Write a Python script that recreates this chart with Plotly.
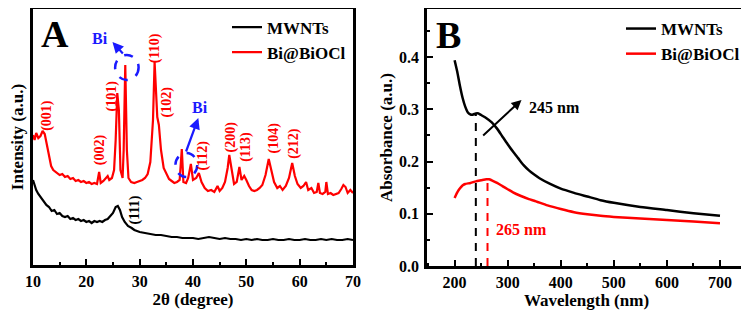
import plotly.graph_objects as go

# ---------------- Panel A : XRD ----------------
two_theta_red = [10.0,10.3,10.6,11.0,11.4,11.8,12.2,12.6,13.0,13.4,13.8,14.5,15.0,15.5,16.0,16.5,17.0,17.5,18.0,18.5,
                 19.0,19.5,20.0,20.5,21.0,21.5,22.0,22.4,22.7,23.2,23.7,24.0,24.3,24.8,25.2,25.5,25.8,26.1,26.4,26.8,
                 27.0,27.3,27.6,27.9,28.4,29.0,29.5,30.0,30.5,31.0,31.5,32.0,32.5,32.8,33.1,33.3,33.6,34.0,34.5,35.0,
                 35.5,36.0,36.5,37.0,37.5,37.9,38.2,38.7,39.1,39.6,40.0,40.6,41.1,41.6,42.2,42.8,43.4,44.0,44.6,45.0,
                 45.5,46.0,46.5,46.8,47.2,47.7,48.2,48.7,49.1,49.6,50.0,50.5,51.0,51.5,52.0,52.5,53.0,53.6,54.2,54.7,
                 55.2,55.8,56.3,56.8,57.4,58.0,58.6,59.1,59.6,60.2,60.7,61.2,61.6,62.2,62.7,63.2,63.5,63.8,64.3,64.8,
                 65.0,65.3,65.8,66.3,66.8,67.3,67.8,68.2,68.6,69.0,69.5,70.0]
intensity_red = [130,125,132,127,129,134,131,120,107,99,95,92,90,91,88,89,86,87,84,85,
                 83,84,82,83,81,82,81,93,82,84,87,89,85,87,95,125,172,155,95,87,
                 115,200,115,87,83,82,83,84,85,87,91,103,145,203,175,148,140,115,97,91,
                 86,84,82,83,85,116,83,82,87,101,85,87,92,83,77,74,75,73,79,74,
                 77,83,97,110,95,81,83,98,85,89,85,79,75,74,75,77,80,90,106,93,
                 83,77,79,75,79,87,102,89,81,77,79,83,75,77,72,73,82,72,71,73,
                 83,71,72,70,71,72,76,80,78,72,75,72]

two_theta_black = [10.0,10.3,10.6,11.0,11.5,12.0,12.5,13.0,13.5,14.0,14.5,15.0,15.5,16.0,16.5,17.0,17.5,18.0,18.5,19.0,
                   19.5,20.0,20.5,21.0,21.5,22.0,22.5,23.0,23.5,24.0,24.5,25.0,25.5,25.9,26.3,26.7,27.2,27.8,28.5,29.0,
                   29.5,30.0,31.0,32.0,33.0,34.0,35.0,36.0,37.0,38.0,39.0,40.0,41.0,42.0,43.0,44.0,45.0,46.0,47.0,48.0,
                   49.0,50.0,51.0,52.0,53.0,54.0,55.0,56.0,57.0,58.0,59.0,60.0,61.0,62.0,63.0,64.0,65.0,66.0,67.0,68.0,
                   69.0,70.0]
intensity_black = [85,79,75,71,67,63,60,58,54,55,51,52,49,48,49,46,47,45,46,44,
                   45,43,44,42,44,43,44,43,45,46,49,52,58,59,55,48,43,39,37,35,
                   34,33,32,31,30,30,29,28,28,27,27,27,26,27,28,27,26,27,26,26,
                   25,26,25,26,25,25,26,25,25,26,25,25,26,25,25,26,25,26,25,25,
                   26,25]

peak_labels_A = ["(001)", "(002)", "(101)", "(110)", "(102)", "(112)", "(200)", "(113)", "(104)", "(212)"]
peak_label_x = [12.6, 22.6, 24.9, 32.9, 35.2, 41.8, 47.2, 49.9, 55.1, 58.9]
peak_label_y = [150, 115, 169, 217, 163, 109, 128, 118, 127, 122]

# ---------------- Panel B : UV-vis ----------------
wl_black = [200,205,210,215,220,225,230,235,240,245,250,260,270,280,290,300,310,320,330,340,350,360,380,400,425,450,
            475,500,550,600,650,700]
abs_black = [0.394,0.372,0.345,0.322,0.305,0.294,0.290,0.290,0.292,0.292,0.289,0.283,0.275,0.263,0.248,0.233,0.219,
             0.206,0.193,0.183,0.175,0.168,0.157,0.148,0.140,0.133,0.126,0.121,0.113,0.107,0.101,0.096]
wl_red = [200,204,208,212,216,220,230,240,250,260,265,270,280,290,300,310,325,340,350,375,400,425,450,475,500,550,
          600,650,700]
abs_red = [0.130,0.139,0.146,0.151,0.155,0.157,0.159,0.162,0.164,0.166,0.166,0.164,0.159,0.153,0.147,0.141,0.134,
           0.128,0.125,0.116,0.109,0.103,0.099,0.096,0.094,0.091,0.088,0.085,0.082]
marker_wl_black = 240
marker_abs_black = 0.292
marker_wl_red = 262
marker_abs_red = 0.166

FONT = "Liberation Serif"
BLUE = "#1a1aff"
RED = "#ff0000"

fig = go.Figure()

fig.add_trace(go.Scatter(x=two_theta_black, y=intensity_black, mode="lines", name="MWNTs",
                         line=dict(color="black", width=2.2), xaxis="x", yaxis="y", legend="legend"))
fig.add_trace(go.Scatter(x=two_theta_red, y=intensity_red, mode="lines", name="Bi@BiOCl",
                         line=dict(color=RED, width=2.2), xaxis="x", yaxis="y", legend="legend"))

fig.add_trace(go.Scatter(x=wl_black, y=abs_black, mode="lines", name="MWNTs",
                         line=dict(color="black", width=2.5, shape="spline", smoothing=0.6),
                         xaxis="x2", yaxis="y2", legend="legend2"))
fig.add_trace(go.Scatter(x=wl_red, y=abs_red, mode="lines", name="Bi@BiOCl",
                         line=dict(color=RED, width=2.5, shape="spline", smoothing=0.6),
                         xaxis="x2", yaxis="y2", legend="legend2"))

# dashed marker lines in panel B
fig.add_trace(go.Scatter(x=[marker_wl_black, marker_wl_black], y=[0, marker_abs_black], mode="lines",
                         line=dict(color="black", width=2, dash="8px,7px"), showlegend=False,
                         xaxis="x2", yaxis="y2"))
fig.add_trace(go.Scatter(x=[marker_wl_red, marker_wl_red], y=[0, marker_abs_red], mode="lines",
                         line=dict(color=RED, width=2, dash="8px,7px"), showlegend=False,
                         xaxis="x2", yaxis="y2"))

# the page body has an 8px margin: the figure is sized and positioned to compensate
OFF = 8
W, H = 749 - OFF, 310 - OFF
def px_x(p):
    return (p - OFF) / W
def px_y(p):
    return 1 - (p - OFF) / H

axis_common = dict(showline=True, linewidth=2.5, linecolor="black", mirror=True, showgrid=False,
                   zeroline=False, automargin=False,
                   tickfont=dict(family=FONT, size=16, color="black", weight="bold"))

fig.update_layout(
    width=W, height=H, margin=dict(l=0, r=0, t=0, b=0, autoexpand=False),
    plot_bgcolor="white", paper_bgcolor="white",
    font=dict(family=FONT, color="black", weight="bold"),
    xaxis=dict(domain=[px_x(33), px_x(353)], range=[10, 70], dtick=10, ticks="inside", ticklen=6,
               tickwidth=2, tickcolor="black",
               minor=dict(ticks="inside", ticklen=3, dtick=5, tickwidth=2, tickcolor="black"),
               title=dict(text="<b>2θ (degree)</b>", font=dict(family=FONT, size=17), standoff=2),
               anchor="y", **axis_common),
    yaxis=dict(domain=[px_y(265), px_y(9)], range=[0, 256], showticklabels=False, ticks="",
               title=dict(text="<b>Intensity (a.u.)</b>", font=dict(family=FONT, size=17), standoff=18),
               anchor="x", **axis_common),
    xaxis2=dict(domain=[px_x(427), px_x(746)], range=[148, 749], dtick=100, tick0=0, ticks="inside",
                ticklen=6, tickwidth=2, tickcolor="black",
                minor=dict(ticks="inside", ticklen=3, dtick=50, tickwidth=2, tickcolor="black"),
                title=dict(text="<b>Wavelength (nm)</b>", font=dict(family=FONT, size=17), standoff=2),
                anchor="y2", **axis_common),
    yaxis2=dict(domain=[px_y(266), px_y(9)], range=[0, 0.492], dtick=0.1, ticks="inside", ticklen=6,
                tickwidth=2, tickcolor="black", tickformat=".1f", ticklabelstandoff=2,
                minor=dict(ticks="inside", ticklen=3, dtick=0.05, tickwidth=2, tickcolor="black"),
                title=dict(text="<b>Absorbance (a.u.)</b>", font=dict(family=FONT, size=17), standoff=3),
                anchor="x2", **axis_common),
    legend=dict(x=px_x(227), y=px_y(40), xanchor="left", yanchor="middle", bgcolor="rgba(0,0,0,0)",
                font=dict(family=FONT, size=17, color="black", weight="bold"), tracegroupgap=0,
                itemwidth=30),
    legend2=dict(x=px_x(621), y=px_y(11), xanchor="left", yanchor="top", bgcolor="rgba(0,0,0,0)",
                 font=dict(family=FONT, size=17, color="black", weight="bold"), tracegroupgap=0,
                 itemwidth=30),
)

annotations = []
# panel letters
annotations.append(dict(text="<b>A</b>", x=px_x(55), y=px_y(34), xref="paper", yref="paper", showarrow=False,
                        xanchor="center", yanchor="middle", font=dict(family=FONT, size=38, color="black")))
annotations.append(dict(text="<b>B</b>", x=px_x(449), y=px_y(35), xref="paper", yref="paper", showarrow=False,
                        xanchor="center", yanchor="middle", font=dict(family=FONT, size=38, color="black")))
# peak labels
for t, xx, yy in zip(peak_labels_A, peak_label_x, peak_label_y):
    annotations.append(dict(text="<b>%s</b>" % t, x=xx, y=yy, xref="x", yref="y", showarrow=False,
                            textangle=-90, font=dict(family=FONT, size=14, color=RED)))
annotations.append(dict(text="<b>(111)</b>", x=29.2, y=55, xref="x", yref="y", showarrow=False,
                        textangle=-90, font=dict(family=FONT, size=14, color="black")))
# Bi labels and arrows
annotations.append(dict(text="<b>Bi</b>", x=22.6, y=227, xref="x", yref="y", showarrow=False,
                        font=dict(family=FONT, size=16, color=BLUE)))
annotations.append(dict(text="<b>Bi</b>", x=41.4, y=158, xref="x", yref="y", showarrow=False,
                        font=dict(family=FONT, size=16, color=BLUE)))
annotations.append(dict(text="", x=24.9, y=223, ax=27.1, ay=210, xref="x", yref="y", axref="x", ayref="y",
                        showarrow=True, arrowhead=2, arrowsize=1, arrowwidth=2.2, arrowcolor=BLUE))
annotations.append(dict(text="", x=41.0, y=147, ax=38.6, ay=112, xref="x", yref="y", axref="x", ayref="y",
                        showarrow=True, arrowhead=2, arrowsize=1, arrowwidth=2.2, arrowcolor=BLUE))
# panel B annotations
annotations.append(dict(text="", x=326, y=0.318, ax=251, ay=0.247, xref="x2", yref="y2", axref="x2", ayref="y2",
                        showarrow=True, arrowhead=2, arrowsize=1, arrowwidth=2, arrowcolor="black"))
annotations.append(dict(text="<b>245 nm</b>", x=336, y=0.304, xref="x2", yref="y2", xanchor="left",
                        showarrow=False, font=dict(family=FONT, size=16, color="black")))
annotations.append(dict(text="<b>265 nm</b>", x=275, y=0.069, xref="x2", yref="y2", xanchor="left",
                        showarrow=False, font=dict(family=FONT, size=16, color=RED)))
fig.update_layout(annotations=annotations)

# dashed circles
fig.add_shape(type="circle", xref="x", yref="y", x0=25.4, x1=29.8, y0=185, y1=210,
              line=dict(color=BLUE, width=2.5, dash="dash"))
fig.add_shape(type="circle", xref="x", yref="y", x0=36.7, x1=40.8, y0=88, y1=112,
              line=dict(color=BLUE, width=2.5, dash="dash"))

fig.write_html("out.html")
